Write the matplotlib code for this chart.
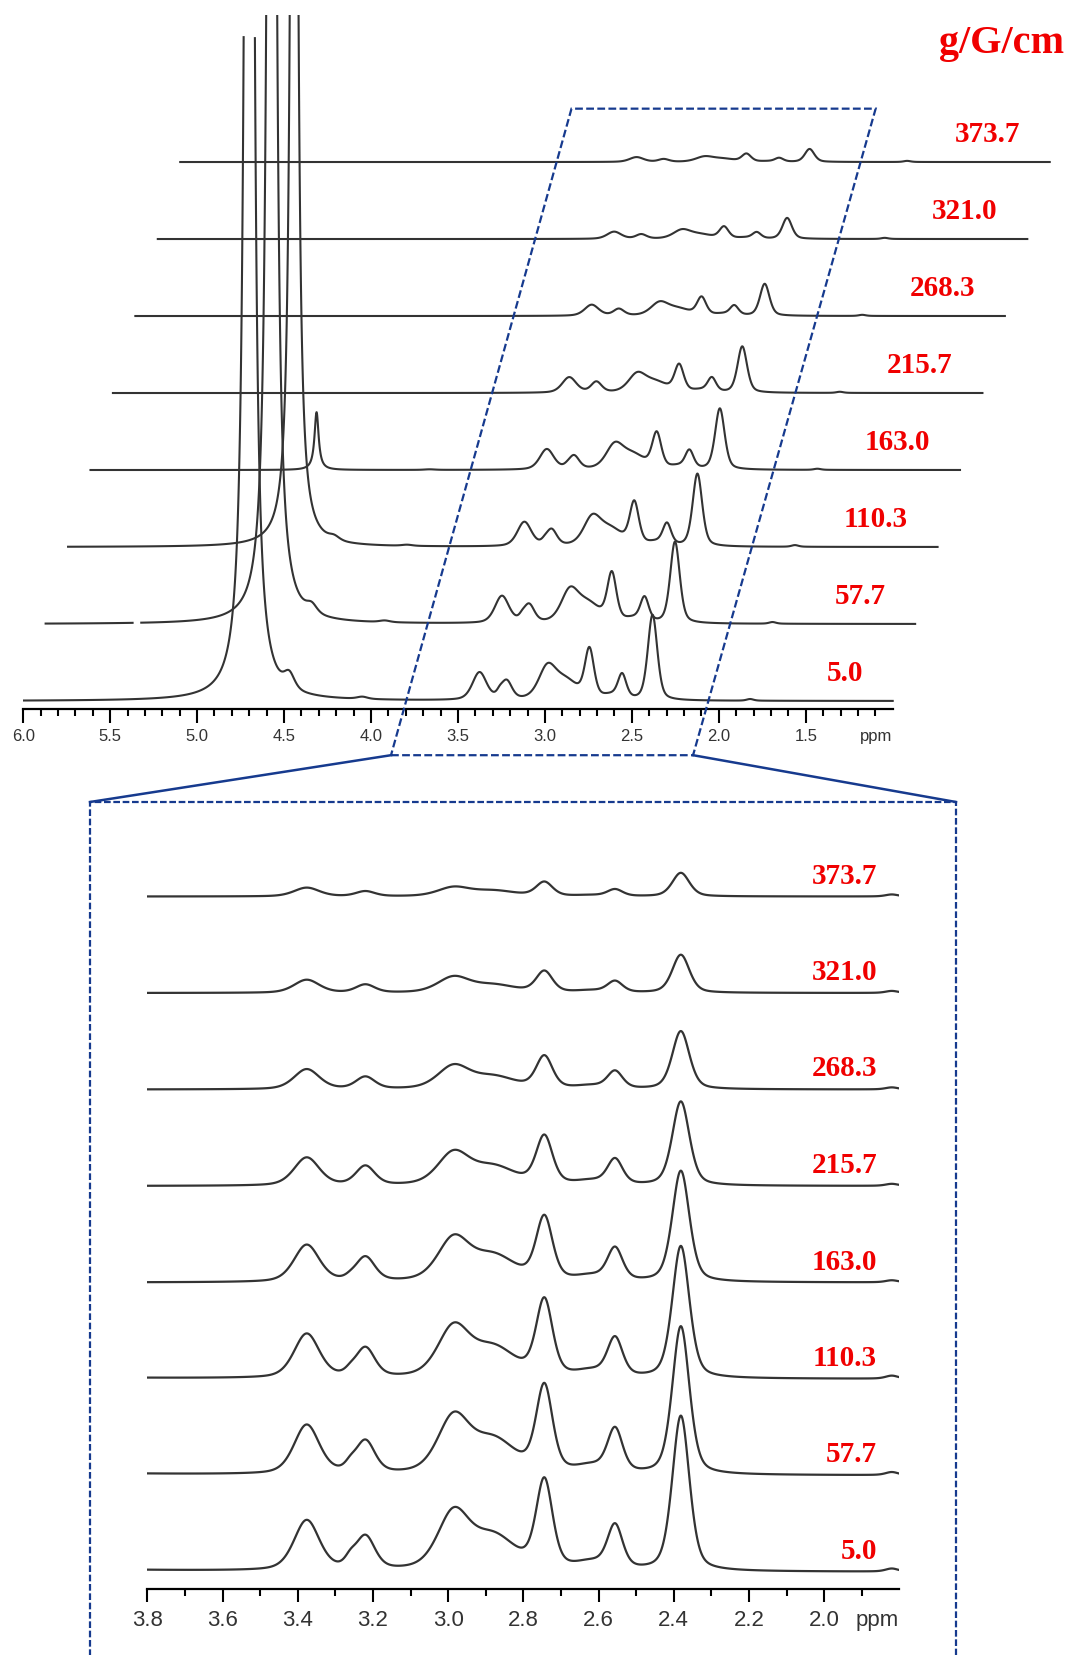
import numpy as np
import matplotlib
matplotlib.use("Agg")
import matplotlib.pyplot as plt
from matplotlib.lines import Line2D
from matplotlib.patches import Polygon
from matplotlib.ticker import FixedLocator

plt.rcParams["font.family"] = ["Liberation Sans", "DejaVu Sans"]
plt.rcParams["path.simplify"] = False

# gradient strengths (g/G/cm), bottom trace first
gradients = ["5.0", "57.7", "110.3", "163.0", "215.7", "268.3", "321.0", "373.7"]

# peak list: centre (ppm), half width (ppm), Lorentz fraction
peak_ppm = [4.70, 4.47, 4.05, 3.376, 3.26, 3.22, 2.986, 2.88, 2.744, 2.62, 2.556, 2.381, 1.82]
peak_hw = [0.0144, 0.030, 0.030, 0.040, 0.018, 0.030, 0.050, 0.070, 0.026, 0.050, 0.024, 0.027, 0.020]
peak_eta = [1.0, 0.5, 0.5, 0.4, 0.4, 0.4, 0.4, 0.4, 0.4, 0.4, 0.4, 0.4, 0.5]

# peak heights for each gradient (a.u.)
h_water = [7300, 6500, 4000, 105, 0, 0, 0, 0]
h_447 = [27, 15, 7, 0, 0, 0, 0, 0]
h_405 = [4, 3, 2, 1, 0, 0, 0, 0]
h_338 = [50, 49, 44, 37, 28, 20, 13, 8.7]
h_326 = [8, 6, 4, 2, 0, 0, 0, 0]
h_322 = [33, 32, 29, 24, 19, 12, 8, 5]
h_299 = [55, 54, 48, 41, 31, 22, 15, 8.5]
h_288 = [33, 33, 29, 25, 18, 12, 7.5, 5.5]
h_274 = [88, 86, 76, 63, 48, 32, 21, 14]
h_262 = [7, 7, 6, 5, 4, 3, 2, 1]
h_256 = [43, 43, 38, 32, 25, 17, 11, 6.7]
h_238 = [155, 148, 132, 111, 84, 58, 38, 23.5]
h_182 = [3, 3, 3, 2, 2, 2, 2, 2]

heights = [h_water, h_447, h_405, h_338, h_326, h_322, h_299, h_288,
           h_274, h_262, h_256, h_238, h_182]

top_ticks = [6.0, 5.5, 5.0, 4.5, 4.0, 3.5, 3.0, 2.5, 2.0, 1.5]
bot_ticks = [3.8, 3.6, 3.4, 3.2, 3.0, 2.8, 2.6, 2.4, 2.2, 2.0]

LINE = "#333333"
BLUE = "#163a8e"
RED = "#f00000"


def spectrum(x, k, broaden=1.0):
    y = np.zeros_like(x)
    for x0, hw, eta, h in zip(peak_ppm, peak_hw, peak_eta, heights):
        if eta < 1.0:
            hw = hw * broaden
        u = ((x - x0) / hw) ** 2
        y += h[k] * (eta / (1 + u) + (1 - eta) * np.exp(-np.log(2) * u))
    return y


W, H = 1069, 1656
fig = plt.figure(figsize=(W / 100, H / 100), dpi=100)

# ---- full spectrum, oblique stack ----
ax = fig.add_axes([23.2 / W, (H - 710) / H, 1043.4 / W, (710 - 16) / H])
ax.set_xlim(6.0, 0.0)
ax.set_ylim(-14.5, 1247.3)
dx_top, dy_top = 0.129, 140.0

x_full = np.linspace(6.0, 1.0, 80000)
for k, lab in enumerate(gradients):
    y = spectrum(x_full, k, broaden=1.2)
    if k == 0:
        y[y > 1209] = np.nan
    if k == 1:
        y[(x_full < 5.50) & (x_full > 5.45)] = np.nan
    ax.plot(x_full - k * dx_top, y + k * dy_top, color=LINE, lw=1.5)
    ax.text(1.171 - k * dx_top, k * dy_top + 39, lab, ha="right", va="baseline",
            color=RED, fontsize=21, fontweight="bold", family="Liberation Serif")

for s in ["top", "left", "right"]:
    ax.spines[s].set_visible(False)
ax.spines["bottom"].set_bounds(1.0, 6.0)
ax.spines["bottom"].set_linewidth(1.6)
ax.set_yticks([])
ax.xaxis.set_major_locator(FixedLocator(top_ticks))
ax.xaxis.set_minor_locator(FixedLocator(np.round(np.arange(1.1, 6.0, 0.1), 1)))
ax.set_xticklabels([f"{t:.1f}" for t in top_ticks])
ax.tick_params(axis="x", which="major", direction="out", length=10, width=1.5,
               labelsize=12, pad=4, labelcolor="#333333")
ax.tick_params(axis="x", which="minor", direction="out", length=5, width=1.5)
ax.annotate("ppm", xy=(1.0, 0), xycoords=("data", "axes fraction"),
            xytext=(0, -14), textcoords="offset points", ha="right", va="top",
            fontsize=12, color="#333333")

# zoom window (parallelogram following the stack offset)
para = [(3.885, -98.5), (2.148, -98.5), (1.098, 1077), (2.847, 1077)]
ax.add_patch(Polygon(para, closed=True, fill=False, edgecolor=BLUE, lw=1.6,
                     ls=(0, (3.5, 1.5)), clip_on=False, zorder=5))

fig.text(1064 / W, 1 - 53 / H, "g/G/cm", ha="right", va="baseline", color=RED,
         fontsize=29, fontweight="bold", family="Liberation Serif")

# ---- expanded region ----
bx = fig.add_axes([147.3 / W, (H - 1590) / H, 752 / W, (1590 - 805) / H])
bx.set_xlim(3.8, 1.8)
bx.set_ylim(-17, 768)
dy_bot = 96.5

x_zoom = np.linspace(3.8, 1.8, 4000)
for k, lab in enumerate(gradients):
    bx.plot(x_zoom, spectrum(x_zoom, k) + k * dy_bot, color=LINE, lw=1.6)
    bx.text(1.859, k * dy_bot + 14, lab, ha="right", va="baseline",
            color=RED, fontsize=21, fontweight="bold", family="Liberation Serif")

for s in ["top", "left", "right"]:
    bx.spines[s].set_visible(False)
bx.spines["bottom"].set_bounds(1.8, 3.8)
bx.spines["bottom"].set_linewidth(1.6)
bx.set_yticks([])
bx.xaxis.set_major_locator(FixedLocator(bot_ticks))
bx.xaxis.set_minor_locator(FixedLocator(np.round(np.arange(1.9, 3.8, 0.2), 1)))
bx.set_xticklabels([f"{t:.1f}" for t in bot_ticks])
bx.tick_params(axis="x", which="major", direction="out", length=9.4, width=1.5,
               labelsize=16, pad=5, labelcolor="#333333")
bx.tick_params(axis="x", which="minor", direction="out", length=5, width=1.5)
bx.annotate("ppm", xy=(1.8, 0), xycoords=("data", "axes fraction"),
            xytext=(0, -14.4), textcoords="offset points", ha="right", va="top",
            fontsize=16, color="#333333")

# dashed frame round the expansion and the two connectors
box_l, box_r, box_t = 90 / W, 956 / W, 1 - 803 / H
fig.add_artist(Line2D([box_l, box_l, box_r, box_r], [-0.01, box_t, box_t, -0.01],
                      transform=fig.transFigure, color=BLUE, lw=1.6,
                      ls=(0, (3, 1.2))))
inv = fig.transFigure.inverted()
for corner, target in [(para[0], (box_l, box_t)), (para[1], (box_r, box_t))]:
    cx, cy = inv.transform(ax.transData.transform(corner))
    fig.add_artist(Line2D([cx, target[0]], [cy, target[1]],
                          transform=fig.transFigure, color=BLUE, lw=1.8))

fig.savefig("out.png", dpi=100)
